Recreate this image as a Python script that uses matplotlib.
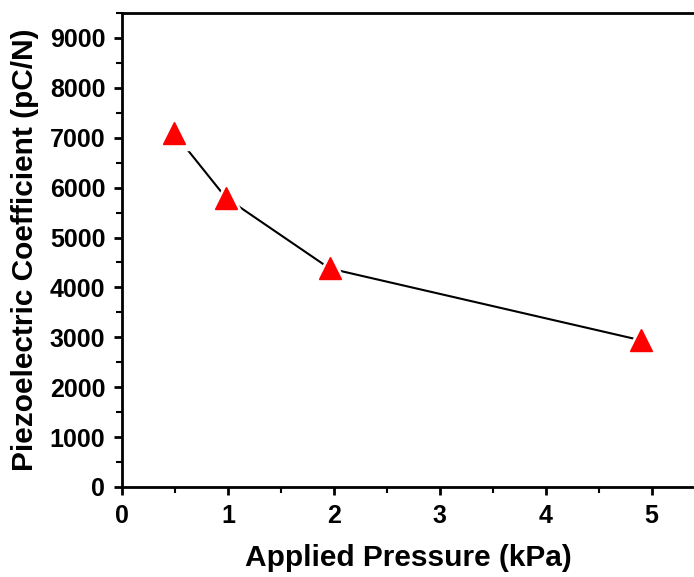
import matplotlib.pyplot as plt
from matplotlib.ticker import MultipleLocator

# data
pressure = [0.49, 0.98, 1.96, 4.9]
coefficient = [7100, 5800, 4380, 2940]

plt.rcParams['font.family'] = ['Liberation Sans', 'DejaVu Sans']
plt.rcParams['font.weight'] = 'bold'

fig = plt.figure(figsize=(6.94, 5.77), dpi=100)
ax = fig.add_axes([0.1758, 0.156, 0.8242, 0.8215])

ax.plot(pressure, coefficient, color='black', lw=1.5, zorder=2)
# white halo so the line stops short of each marker
ax.plot(pressure, coefficient, ls='none', marker='^', ms=24,
        color='white', mec='white', zorder=3)
ax.plot(pressure, coefficient, ls='none', marker='^', ms=16,
        color='red', mec='red', zorder=4)

ax.set_xlim(0, 5.4)
ax.set_ylim(0, 9500)
ax.xaxis.set_major_locator(MultipleLocator(1))
ax.xaxis.set_minor_locator(MultipleLocator(0.5))
ax.yaxis.set_major_locator(MultipleLocator(1000))
ax.yaxis.set_minor_locator(MultipleLocator(500))

for side in ['left', 'bottom', 'top']:
    ax.spines[side].set_linewidth(2)
ax.spines['right'].set_visible(False)

ax.tick_params(which='major', direction='out', length=6, width=2,
               labelsize=18, pad=6, top=False, right=False)
ax.tick_params(which='minor', direction='out', length=4, width=1.5,
               top=False, right=False)

ax.set_xlabel('Applied Pressure (kPa)', fontsize=21.5, fontweight='bold', labelpad=12)
ax.set_ylabel('Piezoelectric Coefficient (pC/N)', fontsize=21.5, fontweight='bold', labelpad=8)

plt.savefig('out.png', dpi=100)
